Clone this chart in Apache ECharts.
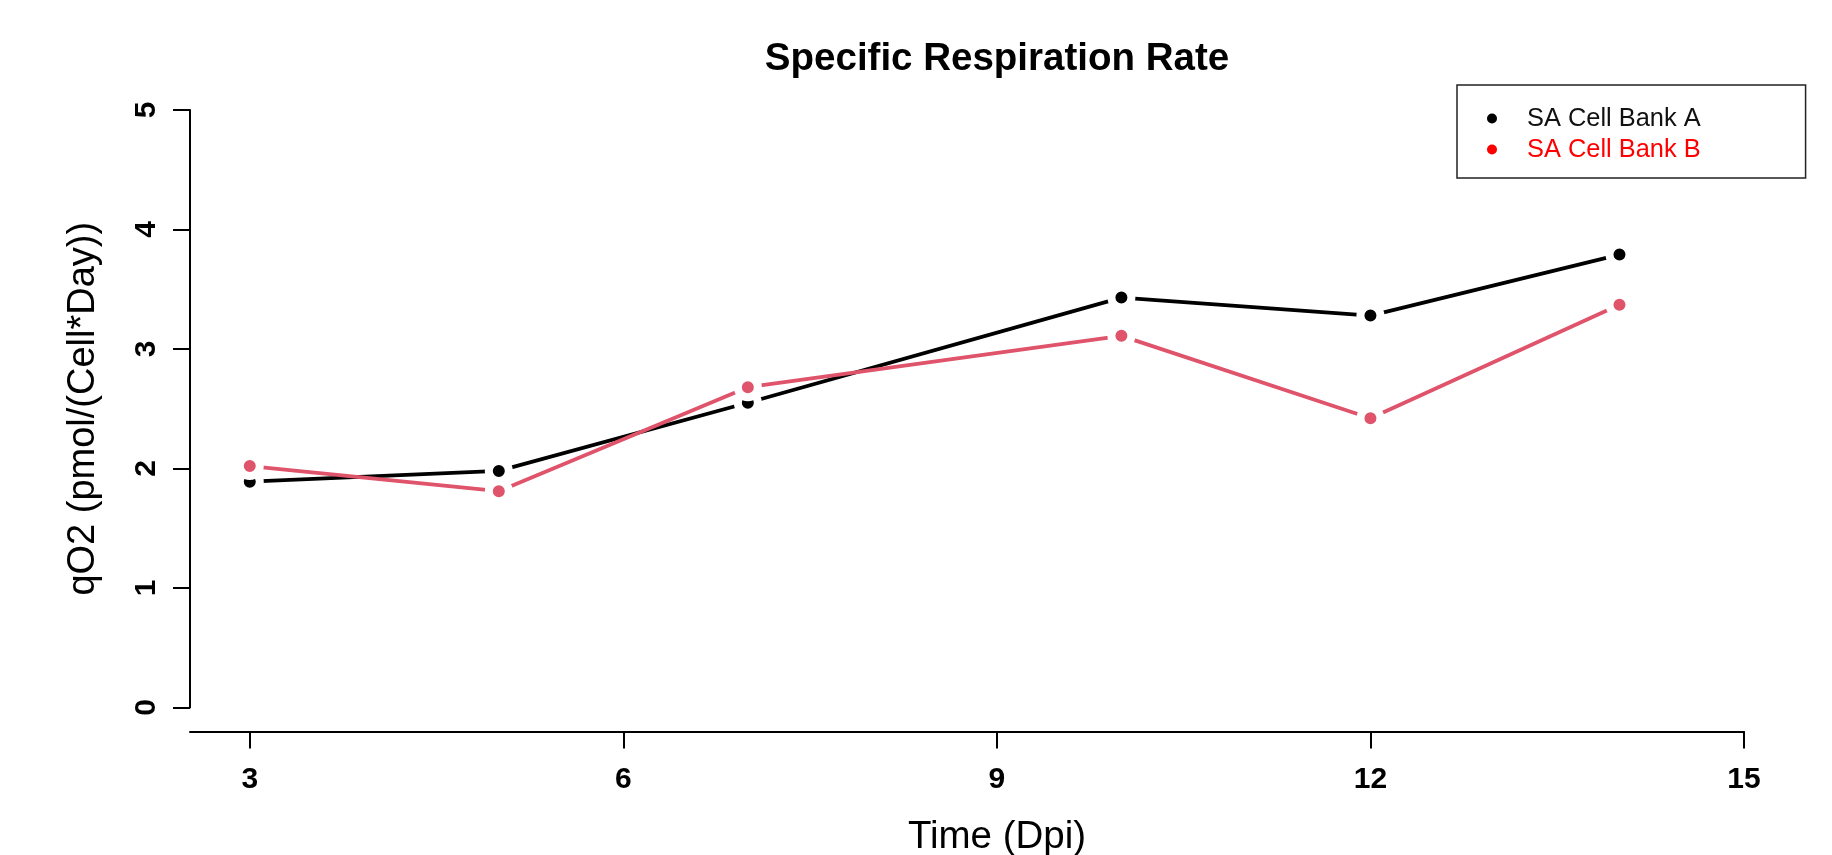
<!DOCTYPE html>
<html>
	<head>
		<meta charset="utf-8">
		<title>Specific Respiration Rate</title>
		<script src="https://cdn.jsdelivr.net/npm/echarts@6/dist/echarts.min.js"></script>
		<style>
			* {
				margin: 0;
				padding: 0
			}
			html,
			body {
				width: 100%;
				height: 100%;
				background: #fff;
			}
			#main {
				width: 1832px;
				height: 855px;
			}
		</style>
	</head>
	<body>
		<div id="main"></div>
		<script type="text/javascript">
			// days post infection
			var days = [3, 5, 7, 10, 12, 14];
			var bankA = [1.89, 1.98, 2.55, 3.43, 3.28, 3.79];
			var bankB = [2.02, 1.81, 2.68, 3.11, 2.42, 3.37];
			var xTicks = [3, 6, 9, 12, 15];
			var seriesNames = ['SA Cell Bank A', 'SA Cell Bank B'];

			function pairs(ys) {
				return days.map(function(d, i) {
					return [d, ys[i]];
				});
			}

			var font = 'Liberation Sans, Arial, sans-serif';
			var chart = echarts.init(document.getElementById('main'));

			function lineSeries(name, ys, color) {
				return {
					name: name,
					type: 'line',
					data: pairs(ys),
					symbol: 'circle',
					symbolSize: 20,
					lineStyle: { color: color, width: 3.8 },
					// white ring gives the gap round each point (type "b")
					itemStyle: { color: color, borderColor: '#fff', borderWidth: 8 },
					emphasis: { disabled: true },
					animation: false
				};
			}

			chart.setOption({
				backgroundColor: '#fff',
				title: {
					text: 'Specific Respiration Rate',
					left: 992,
					top: 35,
					textAlign: 'center',
					textStyle: { fontFamily: font, fontSize: 38.5, fontWeight: 'bold', color: '#000' }
				},
				legend: {
					orient: 'vertical',
					left: 1457,
					top: 85,
					padding: [21, 105, 16, 30],
					itemWidth: 10,
					itemHeight: 10,
					itemGap: 6,
					borderColor: '#222',
					borderWidth: 1.5,
					textStyle: { fontFamily: font, fontSize: 25.4, padding: [0, 0, 0, 25] },
					data: [
						{ name: seriesNames[0], icon: 'circle', itemStyle: { color: '#000', borderWidth: 0 }, textStyle: { color: '#111' } },
						{ name: seriesNames[1], icon: 'circle', itemStyle: { color: '#ff0000', borderWidth: 0 }, textStyle: { color: '#ff0000' } }
					]
				},
				grid: {
					left: 190,
					right: 88,
					top: 110,
					bottom: 147.5,
					outerBoundsMode: 'none'
				},
				xAxis: {
					type: 'value',
					min: 2.52,
					max: 15,
					offset: 24,
					name: 'Time (Dpi)',
					nameLocation: 'middle',
					nameGap: 86.5,
					nameTextStyle: { fontFamily: font, fontSize: 38.5, color: '#000', padding: [0, 0, 0, 60] },
					axisLine: { onZero: false, lineStyle: { color: '#000', width: 2 } },
					axisTick: { length: 17, customValues: xTicks, lineStyle: { color: '#000', width: 2 } },
					axisLabel: { customValues: xTicks, margin: 33.5, fontFamily: font, fontSize: 30, fontWeight: 'bold', color: '#000' },
					splitLine: { show: false }
				},
				yAxis: {
					type: 'value',
					min: 0,
					max: 5,
					interval: 1,
					name: 'qO2 (pmol/(Cell*Day))',
					nameLocation: 'middle',
					nameRotate: 90,
					nameGap: 87,
					nameTextStyle: { fontFamily: font, fontSize: 38, color: '#000' },
					axisLine: { show: true, onZero: false, lineStyle: { color: '#000', width: 2 } },
					axisTick: { show: true, length: 17, lineStyle: { color: '#000', width: 2 } },
					axisLabel: { rotate: 90, margin: 28, fontFamily: font, fontSize: 30, fontWeight: 'bold', color: '#000' },
					splitLine: { show: false }
				},
				series: [
					lineSeries(seriesNames[0], bankA, '#000000'),
					lineSeries(seriesNames[1], bankB, '#DF536B')
				]
			});
		</script>
	</body>
</html>
